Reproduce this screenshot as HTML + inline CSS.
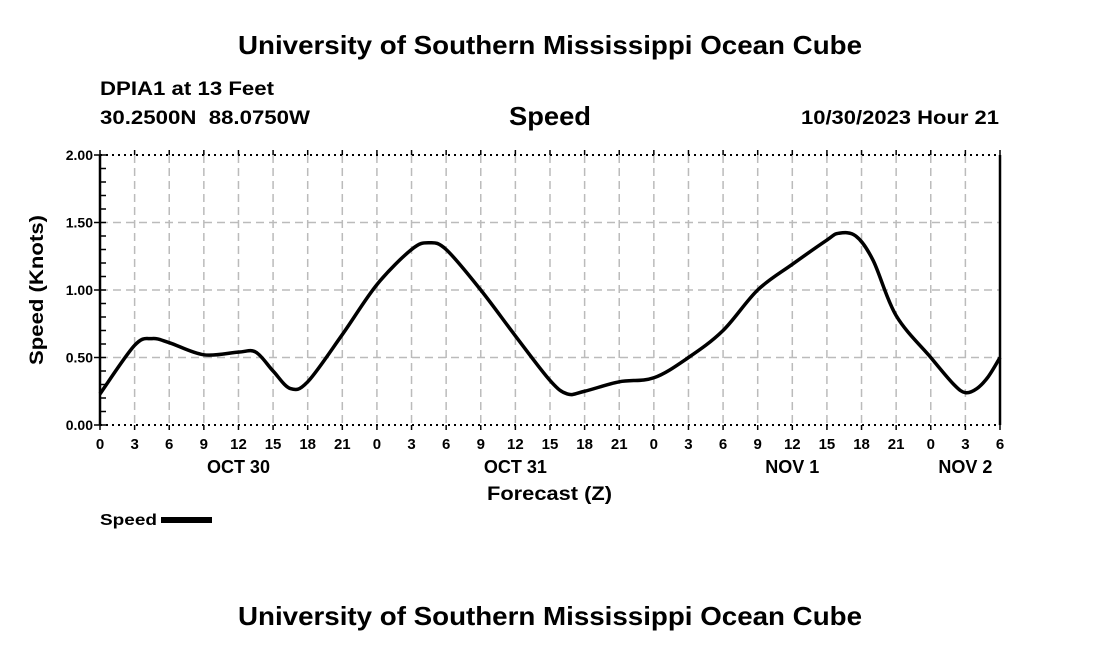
<!DOCTYPE html>
<html><head><meta charset="utf-8"><style>
body{margin:0;background:#fff;}
svg text{font-family:"Liberation Sans",Arial,sans-serif;font-weight:bold;fill:#000;}
</style></head><body>
<svg id="chart" width="1100" height="650" viewBox="0 0 1100 650">
<text x="238" y="54" font-size="26" textLength="624" lengthAdjust="spacingAndGlyphs">University of Southern Mississippi Ocean Cube</text>
<text x="100" y="95" font-size="19" textLength="174" lengthAdjust="spacingAndGlyphs">DPIA1 at 13 Feet</text>
<text x="100" y="124" font-size="19" textLength="210" lengthAdjust="spacingAndGlyphs" xml:space="preserve">30.2500N  88.0750W</text>
<text x="509" y="125" font-size="26" textLength="82" lengthAdjust="spacingAndGlyphs">Speed</text>
<text x="801" y="124" font-size="19" textLength="198" lengthAdjust="spacingAndGlyphs">10/30/2023 Hour 21</text>
<g id="grid"></g>
<g id="axes"></g>
<path id="line" fill="none" stroke="#000" stroke-width="3.5"></path>
<text x="43" y="290" font-size="19" text-anchor="middle" textLength="150" lengthAdjust="spacingAndGlyphs" transform="rotate(-90 43 290)">Speed (Knots)</text>
<text x="487" y="500" font-size="19" textLength="125" lengthAdjust="spacingAndGlyphs">Forecast (Z)</text>
<text x="100" y="525" font-size="16" textLength="57" lengthAdjust="spacingAndGlyphs">Speed</text>
<rect x="161" y="517" width="51" height="6" fill="#000"></rect>
<text x="238" y="625" font-size="26" textLength="624" lengthAdjust="spacingAndGlyphs">University of Southern Mississippi Ocean Cube</text>
</svg>
<script>
const hours=[0,3,4.5,6,9,12,13.5,15,16.5,18,21,24,27,28.5,30,33,36,39,40.5,42,45,48,51,54,57,60,63,64,65.5,67,69,72,74,75,76,77,78];
const speeds=[0.23,0.59,0.64,0.61,0.52,0.54,0.54,0.40,0.27,0.32,0.67,1.04,1.30,1.35,1.30,1.00,0.66,0.33,0.23,0.25,0.32,0.35,0.50,0.70,1.00,1.19,1.37,1.42,1.40,1.22,0.81,0.50,0.30,0.24,0.27,0.36,0.50];
const yTicks=[0,0.5,1.0,1.5,2.0];
const yTickLabels=["0.00","0.50","1.00","1.50","2.00"];
const hourLabels=["0","3","6","9","12","15","18","21"];
const dayLabels=["OCT 30","OCT 31","NOV 1","NOV 2"];
const dayLabelHours=[12,36,60,75];
const X0=100,X1=1000,Y0=425,Y1=155,HMAX=78,VMAX=2;
const xs=h=>X0+(X1-X0)*h/HMAX;
const ys=v=>Y0-(Y0-Y1)*v/VMAX;
const NS="http://www.w3.org/2000/svg";
function mk(tag,attrs,parent,txt){const e=document.createElementNS(NS,tag);for(const k in attrs)e.setAttribute(k,attrs[k]);if(txt!==undefined)e.textContent=txt;parent.appendChild(e);return e;}
const grid=document.getElementById('grid'),axes=document.getElementById('axes');
for(let h=3;h<HMAX;h+=3){
 const g=mk('line',{x1:xs(h),x2:xs(h),y1:Y1,y2:Y0,stroke:'#bbb','stroke-width':1.5,'stroke-dasharray':'8,5'},grid);
 
 
}
yTicks.forEach((v,i)=>{
 if(v>0&&v<VMAX){const g=mk('line',{x1:X0,x2:X1,y1:ys(v),y2:ys(v),stroke:'#bbb','stroke-width':1.5,'stroke-dasharray':'8,5'},grid);
 
 }
 mk('line',{x1:X0-6,x2:X0,y1:ys(v),y2:ys(v),stroke:'#000','stroke-width':1.5},axes);
 const t=mk('text',{x:X0-7,y:ys(v)+5,'font-size':14},axes,yTickLabels[i]);
 t.setAttribute('text-anchor','end');
 
 
});
for(let v=0;v<=VMAX+1e-9;v+=0.1){mk('line',{x1:X0,x2:X0+6,y1:ys(v),y2:ys(v),stroke:'#000','stroke-width':1.5},axes);}
mk('line',{x1:X0,x2:X1,y1:Y1,y2:Y1,stroke:'#000','stroke-width':2,'stroke-dasharray':'2,4'},axes);
mk('line',{x1:X0,x2:X1,y1:Y0,y2:Y0,stroke:'#000','stroke-width':2,'stroke-dasharray':'2,4'},axes);
mk('line',{x1:X0,x2:X0,y1:Y1,y2:Y0,stroke:'#000','stroke-width':2.5},axes);
mk('line',{x1:X1,x2:X1,y1:Y1,y2:Y0,stroke:'#000','stroke-width':2.5},axes);
for(let h=0;h<=HMAX;h+=3){
 mk('line',{x1:xs(h),x2:xs(h),y1:Y1-5,y2:Y1,stroke:'#000','stroke-width':1.5},axes);
 mk('line',{x1:xs(h),x2:xs(h),y1:Y0,y2:Y0+5,stroke:'#000','stroke-width':1.5},axes);
 const t=mk('text',{x:xs(h),y:Y0+24,'font-size':15,'text-anchor':'middle'},axes,hourLabels[(h%24)/3]);
 
 
}
dayLabels.forEach((d,i)=>{
 const t=mk('text',{x:xs(dayLabelHours[i]),y:Y0+48,'font-size':18,'text-anchor':'middle'},axes,d);
 
 
});
const P=hours.map((h,i)=>[xs(h),ys(speeds[i])]);
let d='M'+P[0][0]+','+P[0][1];
for(let i=0;i<P.length-1;i++){
 const p0=P[i-1]||P[i],p1=P[i],p2=P[i+1],p3=P[i+2]||P[i+1];
 const c1=[p1[0]+(p2[0]-p0[0])/6,p1[1]+(p2[1]-p0[1])/6];
 const c2=[p2[0]-(p3[0]-p1[0])/6,p2[1]-(p3[1]-p1[1])/6];
 d+=` C${c1[0]},${c1[1]} ${c2[0]},${c2[1]} ${p2[0]},${p2[1]}`;
}
document.getElementById('line').setAttribute('d',d);
</script>
</body></html>
